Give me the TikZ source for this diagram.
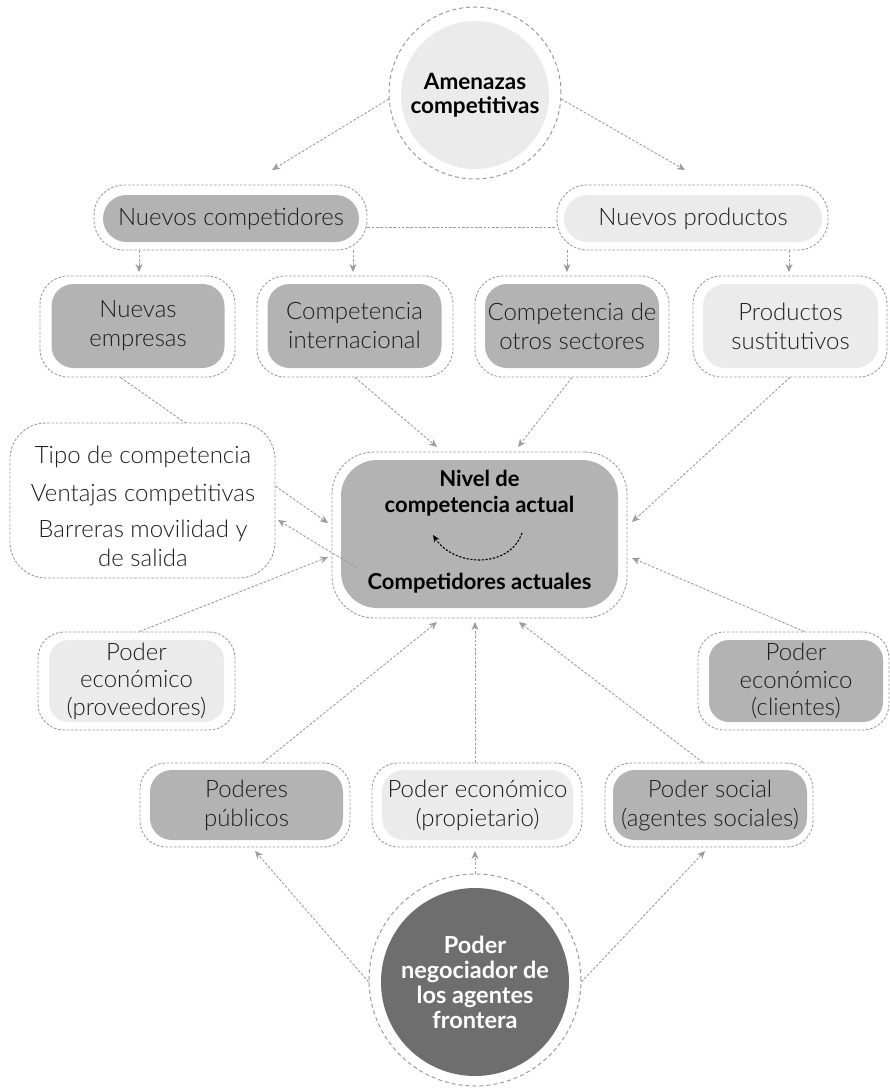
\documentclass[tikz,border=0pt]{standalone}
\usepackage{fontspec}
\setmainfont{Lato}[UprightFont={* Light},BoldFont={* Bold}]
\usetikzlibrary{arrows.meta,calc}
\definecolor{dk}{HTML}{B3B3B3}
\definecolor{lt}{HTML}{EBEBEB}
\definecolor{deep}{HTML}{6E6E6E}
\definecolor{ln}{HTML}{9C9C9C}
\definecolor{tx}{HTML}{1E1E1E}
\begin{document}
\begin{tikzpicture}[x=1pt,y=-1pt,
  ring/.style={draw=ln, line width=0.9pt, dash pattern=on 2.6pt off 1.7pt},
  halo/.style={ring, rounded corners=#1, inner sep=0pt},
  halo/.default=28pt,
  pad/.style={rounded corners=#1, inner sep=0pt, align=center, text=tx,
    font=\fontsize{24pt}{29pt}\selectfont},
  pad/.default=22pt,
  bigring/.style={circle, draw=ln, line width=1pt, dash pattern=on 4pt off 3pt, inner sep=0pt},
  link/.style={draw=ln, line width=0.9pt, dash pattern=on 2.6pt off 1.7pt,
    -{Stealth[length=8pt,width=7pt]}},
  plain/.style={draw=ln, line width=0.9pt, dash pattern=on 2.6pt off 1.7pt},
  hd/.style={font=\bfseries\fontsize{22pt}{26pt}\selectfont, align=center}
]
\useasboundingbox[fill=white] (0,0) rectangle (890,1089);

% ---------- top circle ----------
\node[bigring, minimum size=172pt] (ac) at (475,93) {};
\node[circle, fill=lt, minimum size=148pt, inner sep=0pt, text=black, align=center,
  font=\bfseries\fontsize{22.5pt}{24pt}\selectfont] (aci) at (475,95) {Amenazas\\competitivas};

% ---------- first level ----------
\node[halo=30pt, minimum width=273pt, minimum height=65pt] (nc) at (230.5,217.5) {};
\node[pad=23.5pt, fill=dk, minimum width=256pt, minimum height=47pt] (nci) at (231,218.5) {Nuevos competidores};
\node[halo=30pt, minimum width=271pt, minimum height=65pt] (np) at (692.5,217.5) {};
\node[pad=23.5pt, fill=lt, minimum width=258pt, minimum height=47pt] (npi) at (693,218.5) {Nuevos productos};

% ---------- second level ----------
\node[halo, minimum width=195pt, minimum height=101pt] (ne) at (137.5,326.5) {};
\node[pad, fill=dk, minimum width=173pt, minimum height=84pt] (nei) at (138,326) {Nuevas\\empresas};
\node[halo, minimum width=196pt, minimum height=101pt] (ci) at (355,326.5) {};
\node[pad, fill=dk, minimum width=174pt, minimum height=84pt] (cii) at (354.5,326) {Competencia\\internacional};
\node[halo, minimum width=194pt, minimum height=101pt] (os) at (572,326.5) {};
\node[pad, fill=dk, minimum width=174pt, minimum height=84pt] (osi) at (572,326) {Competencia de\\otros sectores};
\node[halo, minimum width=194pt, minimum height=101pt] (ps) at (790,326.5) {};
\node[pad, fill=lt, minimum width=175pt, minimum height=84pt] (psi) at (790.5,326) {Productos\\sustitutivos};

% ---------- arrow end points ----------
\coordinate (t1) at (272,170);
\coordinate (t2) at (685,170);
\coordinate (d1) at (139,272);
\coordinate (d2) at (353,272);
\coordinate (d3) at (567,272);
\coordinate (d4) at (789,272);
\coordinate (e1) at (328,523);
\coordinate (e2) at (437,447);
\coordinate (e3) at (518,447);
\coordinate (e4) at (632,522);
\coordinate (s5) at (357,568);
\coordinate (e5) at (278,520);
\coordinate (e6) at (328,557);
\coordinate (e7) at (632,558);
\coordinate (e8) at (437,622);
\coordinate (e9) at (475,622);
\coordinate (e10) at (519,622);
\coordinate (f1) at (255,851);
\coordinate (f2) at (475,851);
\coordinate (f3) at (705,851);

% connectors of the upper part
\draw[link] (ac.184) -- (t1);
\draw[link] (ac.-4) -- (t2);
\draw[plain] ([yshift=-9.5pt]nc.east) -- ([yshift=-9.5pt]np.west);
\draw[link] (d1 |- nc.south) -- (d1);
\draw[link] (d2 |- nc.south) -- (d2);
\draw[link] (d3 |- np.south) -- (d3);
\draw[link] (d4 |- np.south) -- (d4);

% line that runs behind the side box
\draw[link] ([xshift=-17pt]ne.south) -- (e1);

% ---------- side box ----------
\node[halo=36pt, fill=white, minimum width=265pt, minimum height=155pt] (tp) at (142.5,500.5) {};
\node[pad, align=center] (tpt) at (143,506.5)
  {Tipo de competencia\\[9pt]Ventajas competitivas\\[7pt]Barreras movilidad y\\de salida};

% ---------- central box ----------
\node[halo=42pt, minimum width=295pt, minimum height=166pt] (cb) at (479.5,535) {};
\node[rounded corners=36pt, fill=dk, minimum width=277pt, minimum height=148pt, inner sep=0pt] (cbi) at (479.5,534) {};
\node[hd] (lvl) at (479.5,493) {Nivel de\\competencia actual};
\node[hd] (cur) at (479.5,583) {Competidores actuales};
\coordinate (c1) at (522,533);
\coordinate (c2) at (433,535);
\draw[black, line width=1.1pt, dash pattern=on 2.2pt off 1.6pt, -{Stealth[length=7pt,width=6pt]}]
  (c1) .. controls (510,568) and (455,568) .. (c2);

% ---------- lateral powers ----------
\node[halo=26pt, minimum width=197pt, minimum height=98pt] (pv) at (136.5,681) {};
\node[pad=20pt, fill=lt, minimum width=175pt, minimum height=82pt,
  font=\fontsize{24pt}{27.5pt}\selectfont] (pvi) at (136.5,681) {Poder\\económico\\(proveedores)};
\node[halo=26pt, minimum width=191pt, minimum height=98pt] (cl) at (793.5,681) {};
\node[pad=20pt, fill=dk, minimum width=174pt, minimum height=82pt,
  font=\fontsize{24pt}{27.5pt}\selectfont] (cli) at (796,681) {Poder\\económico\\(clientes)};

% ---------- lower level ----------
\node[halo=26pt, minimum width=210pt, minimum height=84pt] (pp) at (245,805) {};
\node[pad=22pt, fill=dk, minimum width=193pt, minimum height=70pt] (ppi) at (246.5,805) {Poderes\\públicos};
\node[halo=26pt, minimum width=210pt, minimum height=84pt] (pr) at (477,805) {};
\node[pad=22pt, fill=lt, minimum width=191pt, minimum height=70pt] (pri) at (477.5,805) {Poder económico\\(propietario)};
\node[halo=26pt, minimum width=208pt, minimum height=84pt] (so) at (709,805) {};
\node[pad=22pt, fill=dk, minimum width=194pt, minimum height=70pt] (soi) at (710,805) {Poder social\\(agentes sociales)};

% ---------- bottom circle ----------
\node[bigring, minimum size=212pt] (bc) at (475,980) {};
\node[circle, fill=deep, minimum size=188pt, inner sep=0pt, text=white,
  font=\bfseries\fontsize{23.5pt}{25pt}\selectfont, align=center] (bci) at (475,982)
  {Poder\\negociador de\\los agentes\\frontera};

% connectors into the central box
\draw[link] (ci.south) -- (e2);
\draw[link] (os.south) -- (e3);
\draw[link] (ps.south) -- (e4);
\draw[link] (s5) -- (e5);
\draw[link] ([xshift=3pt]pv.north) -- (e6);
\draw[link] ([xshift=11pt]cl.north) -- (e7);
\draw[link] ([xshift=18pt]pp.north) -- (e8);
\draw[link] (e9 |- pr.north) -- (e9);
\draw[link] ([xshift=-6pt]so.north) -- (e10);

% connectors from the bottom circle
\draw[link] (bc.181) -- (f1);
\draw[link] (bc.north) -- (f2);
\draw[link] (bc.-1) -- (f3);
\end{tikzpicture}
\end{document}
